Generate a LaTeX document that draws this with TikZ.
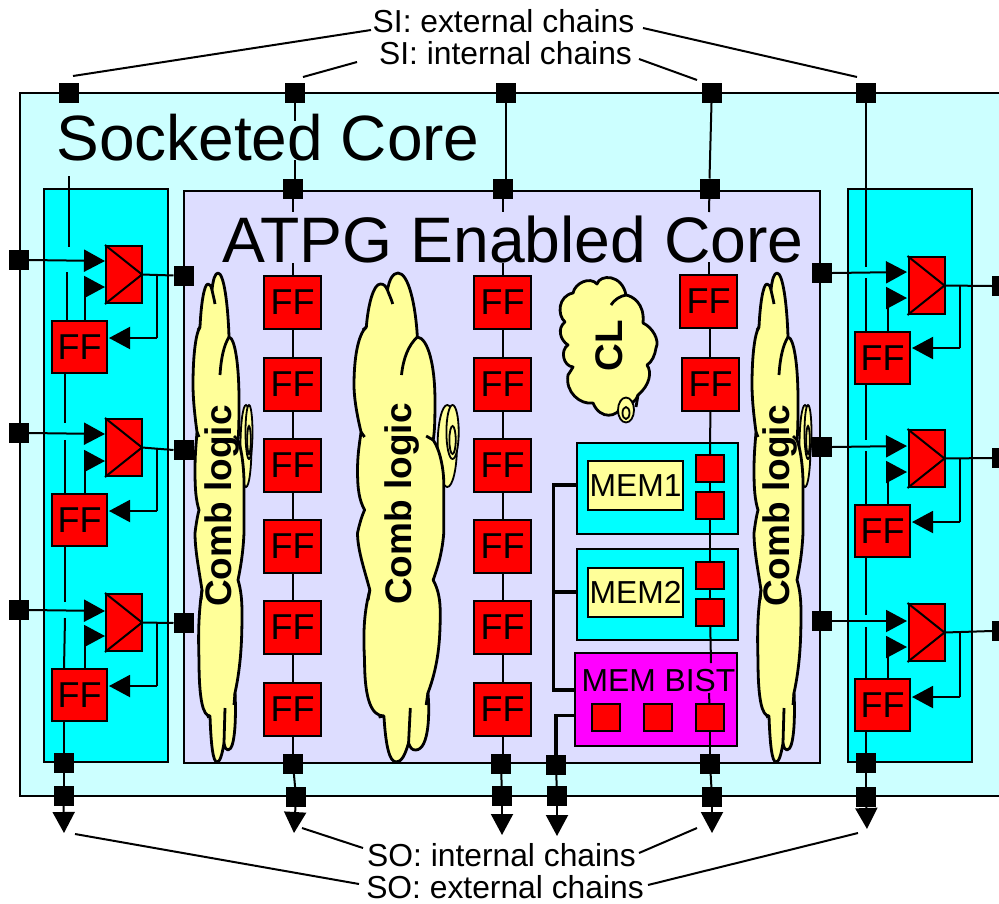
\documentclass[tikz,border=0pt]{standalone}
\usepackage{fontspec}
\setmainfont{Liberation Sans}
\usetikzlibrary{arrows.meta}
\newcommand{\fsz}[1]{\fontsize{#1}{#1}\selectfont}
\tikzset{
  box/.style={draw=black,line width=2pt,inner sep=0pt,outer sep=0pt,rectangle},
  ffbox/.style={box,fill=red,minimum width=57pt,minimum height=53pt,font=\fsz{36}},
  mux/.style={box,fill=red,minimum width=36pt,minimum height=57pt},
  smallred/.style={box,fill=red,minimum width=28pt,minimum height=27pt},
  port/.style={rectangle,fill=black,minimum size=20pt,inner sep=0pt,outer sep=0pt},
  wire/.style={draw=black,line width=2pt},
  bus/.style={draw=black,line width=3.5pt},
  arr/.style={wire,-{Triangle[length=21pt,width=22pt]}},
  lab/.style={inner sep=0pt,font=\fsz{31.8}},
  cloudline/.style={draw=black,line width=2.8pt,line join=round},
  spiralline/.style={draw=black,line width=1.8pt},
  combcloud/.pic={
    \path[spiralline,fill=cloudy] (53,446) ellipse [x radius=5.5pt,y radius=41pt];
    \path[spiralline,fill=cloudy] (56,432) ellipse [x radius=3.5pt,y radius=27pt];
    \path[spiralline,fill=cloudy] (56,440) ellipse [x radius=1.8pt,y radius=14pt];
    \path[cloudline,fill=cloudy] (7,327) .. controls (8,305) and (11,284) .. (15,284)
      .. controls (17,284) and (18,286) .. (19,290)
      .. controls (20,280) and (22,273) .. (25,273)
      .. controls (31,273) and (35,305) .. (36,337)
      .. controls (42,338) and (46,365) .. (46,400)
      .. controls (46,415) and (46,430) .. (45,440)
      .. controls (49,450) and (51,470) .. (51,483)
      .. controls (51,505) and (51,525) .. (51,533)
      .. controls (50,555) and (47,570) .. (45,580)
      .. controls (48,590) and (49,600) .. (49,613)
      .. controls (49,640) and (48,665) .. (42,693)
      .. controls (43,710) and (43,750) .. (35,750)
      .. controls (33,750) and (32,748) .. (31,743)
      .. controls (29,755) and (27,762) .. (24,762)
      .. controls (20,762) and (18,745) .. (17,716)
      .. controls (10,716) and (6,700) .. (6,660)
      .. controls (5,630) and (6,610) .. (9,590)
      .. controls (6,570) and (2,550) .. (2,533)
      .. controls (3,525) and (4,518) .. (6,510)
      .. controls (3,500) and (2,490) .. (2,470)
      .. controls (2,455) and (3,445) .. (4,432)
      .. controls (1,410) and (0,395) .. (0,385)
      .. controls (0,360) and (2,335) .. (7,327) -- cycle;
    \path[cloudline] (36,337) .. controls (31,345) and (28,358) .. (27,375);
    \path[cloudline] (19,290) .. controls (20,295) and (21,298) .. (22,304);
    \path[cloudline] (7,327) -- (5,330);
    \path[cloudline] (4,432) -- (6,437);
    \path[cloudline] (45,440) -- (41,436);
    \path[cloudline] (9,590) -- (8,600);
    \path[cloudline] (42,693) -- (41,705);
    \path[cloudline] (17,716) -- (14,717);
    \path[cloudline] (31,743) -- (32,708);
  }
}
\definecolor{cloudy}{HTML}{FFFF99}
\definecolor{outerc}{HTML}{CCFFFF}
\definecolor{panelc}{HTML}{00FFFF}
\definecolor{corec}{HTML}{DDDDFF}
\definecolor{bistc}{HTML}{FF00FF}
\begin{document}
\begin{tikzpicture}[x=1pt,y=-1pt]
\clip (0,0) rectangle (999,903);
% containers
\node[box,line width=2.6pt,fill=outerc,minimum width=990pt,minimum height=703pt] (outer) at (515,444.5) {};
\node[box,fill=panelc,minimum width=124pt,minimum height=573pt] (pl) at (106,475.5) {};
\node[box,line width=2.4pt,fill=corec,minimum width=636pt,minimum height=572pt] (core) at (502,477) {};
\node[box,fill=panelc,minimum width=124pt,minimum height=573pt] (pr) at (910,475.5) {};
% clouds
\pic at (193,0) {combcloud};
\pic[xscale=1.76] at (354,0) {combcloud};
\pic at (752,0) {combcloud};
\path[cloudline,fill=cloudy] (573,293) .. controls (575,283) and (590,276) .. (597,284)
  .. controls (600,274) and (622,274) .. (626,295)
  .. controls (632,296) and (645,303) .. (643,323)
  .. controls (652,327) and (660,340) .. (656,348)
  .. controls (655,355) and (652,362) .. (647,365)
  .. controls (652,372) and (650,385) .. (638,395)
  .. controls (635,403) and (630,405) .. (622,405)
  .. controls (618,418) and (600,420) .. (593,403)
  .. controls (580,405) and (565,392) .. (568,375)
  .. controls (570,372) and (572,369) .. (573,367)
  .. controls (563,366) and (560,350) .. (568,345)
  .. controls (560,340) and (557,328) .. (565,322)
  .. controls (557,315) and (558,296) .. (573,293) -- cycle;
\path[cloudline] (626,295) .. controls (620,296) and (614,300) .. (611,305);
\path[spiralline,fill=cloudy] (626,410) ellipse [x radius=8pt,y radius=12.5pt];
\path[spiralline,fill=cloudy] (626,413) ellipse [x radius=3.5pt,y radius=6pt];
\path[cloudline] (638,395) -- (636,407);
% top and bottom ports
\node[port] (t1) at (68.5,93) {};
\node[port] (t2) at (294.5,93) {};
\node[port] (t3) at (505.5,93) {};
\node[port] (t4) at (711.5,93) {};
\node[port] (t5) at (866,93) {};
\node[port] (s2) at (292.5,189) {};
\node[port] (s3) at (503,189) {};
\node[port] (s4) at (709.5,188.5) {};
\node[port] (b1) at (63.5,763) {};
\node[port] (b2) at (293,764) {};
\node[port] (b3) at (501,764) {};
\node[port] (b4) at (556,765) {};
\node[port] (b5) at (710,763.5) {};
\node[port] (b6) at (866,763) {};
\node[port] (c1) at (63.5,796) {};
\node[port] (c2) at (296,797) {};
\node[port] (c3) at (502,796) {};
\node[port] (c4) at (557,796) {};
\node[port] (c5) at (712,797) {};
\node[port] (c6) at (866,797) {};
\coordinate (o1) at (64,833);
\coordinate (o2) at (294,833);
\coordinate (o3) at (502,835);
\coordinate (o4) at (557,836);
\coordinate (o5) at (712,833);
\coordinate (o6) at (867,829);
% side ports
\node[port] (pL1) at (19,260) {};
\node[port] (pL2) at (19,433) {};
\node[port] (pL3) at (19,610) {};
\node[port] (qL1) at (183.5,275.5) {};
\node[port] (qL2) at (183.5,450) {};
\node[port] (qL3) at (183.5,623) {};
\node[port] (pR1) at (822,273) {};
\node[port] (pR2) at (822,447) {};
\node[port] (pR3) at (822,621) {};
\node[port] (qR1) at (1002,286) {};
\node[port] (qR2) at (1002,458) {};
\node[port] (qR3) at (1002,631) {};
% FF columns
\foreach \n/\y in {1/302,2/384.5,3/465.5,4/546.5,5/627,6/709}{
  \node[ffbox] (a\n) at (292.5,\y) {FF};
  \node[ffbox] (d\n) at (502.5,\y) {FF};
}
\node[ffbox] (e1) at (708.5,301) {FF};
\node[ffbox] (e2) at (710.5,384.5) {FF};
% memories
\node[box,fill=panelc,minimum width=161pt,minimum height=91pt] (mem1) at (657.5,488.5) {};
\node[box,fill=panelc,minimum width=161pt,minimum height=91pt] (mem2) at (657.5,594.5) {};
\node[box,fill=bistc,minimum width=162pt,minimum height=93pt] (bist) at (656,699.5) {};
\node[box,fill=cloudy,minimum width=95pt,minimum height=49pt,font=\fsz{31.8}] (m1t) at (635.5,485.5) {MEM1};
\node[box,fill=cloudy,minimum width=95pt,minimum height=49pt,font=\fsz{31.8}] (m2t) at (635.5,592.5) {MEM2};
\node[smallred] (r1) at (710,468.5) {};
\node[smallred] (r2) at (710,505) {};
\node[smallred] (r3) at (710,575) {};
\node[smallred] (r4) at (710,612.5) {};
\node[smallred] (r5) at (606,717.5) {};
\node[smallred] (r6) at (657.5,717.5) {};
\node[smallred] (r7) at (710,717.5) {};
% scan chains in the core
\foreach \u/\v in {a1/a2,a2/a3,a3/a4,a4/a5,a5/a6,d1/d2,d2/d3,d3/d4,d4/d5,d5/d6}{\draw[wire] (\u) -- (\v);}
\draw[wire] (a6) -- (a6 |- b2.north);
\draw[wire] (d6) -- (d6 |- b3.north);
\coordinate (g2a) at (294.5,121); \coordinate (g2b) at (294.5,160);
\draw[wire] (t2) -- (g2a);
\draw[wire] (g2b) -- (g2b |- s2.north);
\draw[wire] (t3) -- (t3 |- s3.north);
\draw[wire] (t4.south) -- (s4.north);
\coordinate (h1) at (292.5,212); \coordinate (h2) at (503,212); \coordinate (h3) at (709,212);
\coordinate (i1) at (292.5,263); \coordinate (i2) at (503,263); \coordinate (i3) at (709,262);
\draw[wire] (s2) -- (h1); \draw[wire] (i1) -- (i1 |- a1.north);
\draw[wire] (s3) -- (h2); \draw[wire] (i2) -- (i2 |- d1.north);
\draw[wire] (s4) -- (h3); \draw[wire] (i3) -- (i3 |- e1.north);
\draw[wire] (e1.south -| 709.5,0) -- (e2.north -| 709.5,0);
\draw[wire] (e2) -- (r1);
\draw[wire] (r1) -- (r2);
\draw[wire] (r2) -- (r3);
\draw[wire] (r3) -- (r4);
\coordinate (j1) at (711,663); \coordinate (j2) at (709,693);
\draw[wire] (r4) -- (j1);
\draw[wire] (j2) -- (r7);
\draw[wire] (r7) -- (b5);
% bus
\coordinate (busa) at (553.5,485);
\coordinate (busb) at (553.5,690);
\coordinate (busc) at (553.5,592);
\draw[bus,line join=miter] (mem1.west |- busa) -- (busa) -- (busb) -- (bist.west |- busb);
\draw[bus] (busc) -- (mem2.west |- busc);
\coordinate (busd) at (556,715.5);
\draw[bus,line join=miter] (bist.west |- busd) -- (busd) -- (b4);
% outputs
\foreach \u/\v in {b1/c1,b2/c2,b3/c3,b4/c4,b5/c5,b6/c6}{\draw[wire] (\u) -- (\v);}
\foreach \u/\v in {c1/o1,c2/o2,c3/o3,c4/o4,c5/o5,c6/o6}{\draw[arr] (\u) -- (\v);}
% wrapper units
\foreach \n/\mx/\my/\fx/\fy/\ya/\yb/\yc/\xt/\xb/\xc/\xf/\pin/\pout in {
  L1/124/274.5/79.5/347/261/287/338/105/85/157/109/pL1/qL1,
  L2/124/447.5/79.5/520/434/461/511/105/85/157/109/pL2/qL2,
  L3/124/622.5/79.5/695/611/636/686/105/85/157/109/pL3/qL3,
  R1/926.5/285.5/882.5/358/272/298/348/907/888/960/912/pR1/qR1,
  R2/926.5/458.5/882.5/531/446/472/522/907/888/960/912/pR2/qR2,
  R3/926.5/632.5/882.5/705/621/647/697/907/888/960/912/pR3/qR3}{
  \node[mux] (m\n) at (\mx,\my) {};
  \node[ffbox,minimum width=55pt,minimum height=52pt] (f\n) at (\fx,\fy) {FF};
  \draw[wire,line join=bevel] ([shift={(-1,-1)}]m\n.north west) -- (m\n.east) -- ([shift={(-1,1)}]m\n.south west);
  \coordinate (u\n) at (\xt,\ya);
  \draw[arr] (\pin.east) -- (u\n);
  \coordinate (v\n) at (\xb,\yb);
  \coordinate (vv\n) at (\xt,\yb);
  \draw[wire] (v\n |- f\n.north) -- (v\n);
  \draw[arr] (v\n) -- (vv\n);
  \draw[wire] (m\n.east) -- coordinate (wo\n) (\pout.west);
  \coordinate (w\n) at (\xc,\yc);
  \coordinate (x\n) at (\xf,\yc);
  \draw[wire] (w\n |- m\n.east) -- (w\n);
  \draw[arr] (w\n) -- (x\n);
}
% left chain
\coordinate (la1) at (68.5,176); \coordinate (la2) at (68.5,247);
\draw[wire] (la1) -- (la2);
\coordinate (la3) at (67,272); \draw[wire] (la3) -- (la3 |- fL1.north);
\coordinate (la4) at (65,423); \draw[wire] (la4 |- fL1.south) -- (la4);
\coordinate (la5) at (65,440); \draw[wire] (la5) -- (la5 |- fL2.north);
\coordinate (la6) at (64.5,602); \draw[wire] (la6 |- fL2.south) -- (la6);
\coordinate (la7) at (65,618); \draw[wire] (la7) -- (64,669);
\draw[wire] (b1 |- fL3.south) -- (b1);
% right chain
\coordinate (ra1) at (866,267); \draw[wire] (t5) -- (ra1);
\coordinate (ra2) at (866,278); \draw[wire] (ra2) -- (ra2 |- fR1.north);
\coordinate (ra3) at (866,440); \draw[wire] (ra3 |- fR1.south) -- (ra3);
\coordinate (ra4) at (866,451); \draw[wire] (ra4) -- (ra4 |- fR2.north);
\coordinate (ra5) at (866,615); \draw[wire] (ra5 |- fR2.south) -- (ra5);
\coordinate (ra6) at (866,627); \draw[wire] (ra6) -- (ra6 |- fR3.north);
\draw[wire] (b6 |- fR3.south) -- (b6);
% titles
\node[inner sep=0pt,font=\fsz{64}] (soc) at (268,138) {Socketed Core};
\node[inner sep=0pt,font=\fsz{64.3}] (atpg) at (513,239.5) {ATPG Enabled Core};
\node[lab] (bisttxt) at (658.5,681) {MEM BIST};
% cloud labels
\node[inner sep=0pt,font=\fsz{37}\bfseries,rotate=90] (cl1) at (222,506) {Comb logic};
\node[inner sep=0pt,font=\fsz{37}\bfseries,rotate=90] (cl2) at (402,504) {Comb logic};
\node[inner sep=0pt,font=\fsz{37}\bfseries,rotate=90] (cl3) at (780,506) {Comb logic};
\node[inner sep=0pt,font=\fsz{38.5}\bfseries,rotate=90] (cl4) at (609.5,346) {CL};
% captions and leaders
\node[lab] (si1) at (503.5,21) {SI: external chains};
\node[lab] (si2) at (505.5,53) {SI: internal chains};
\node[lab] (so1) at (501.5,855) {SO: internal chains};
\node[lab] (so2) at (505,887.5) {SO: external chains};
\coordinate (n1) at (73,76);  \coordinate (n1b) at (371,30);
\coordinate (n2) at (303,77); \coordinate (n2b) at (357,62);
\coordinate (n3) at (857,77); \coordinate (n3b) at (643,28);
\coordinate (n4) at (697,80); \coordinate (n4b) at (639,59);
\coordinate (n5) at (75,834); \coordinate (n5b) at (359,884);
\coordinate (n6) at (302,828);\coordinate (n6b) at (363,848);
\coordinate (n7) at (697,828);\coordinate (n7b) at (639,853);
\coordinate (n8) at (858,833);\coordinate (n8b) at (648,885);
\foreach \u/\v in {n1/n1b,n2/n2b,n3/n3b,n4/n4b,n5/n5b,n6/n6b,n7/n7b,n8/n8b}{\draw[wire] (\u) -- (\v);}
\end{tikzpicture}
\end{document}
